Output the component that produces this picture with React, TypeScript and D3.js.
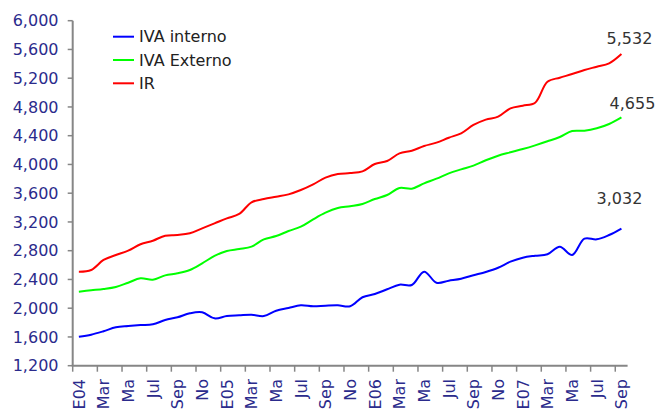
import React from "react";
import * as d3 from "d3";

const months = ["E", "F", "Mar", "A", "Ma", "Jun", "Jul", "Ag", "Sep", "O", "No", "D"];
const startYear = 4;
const yTicks = [1200, 1600, 2000, 2400, 2800, 3200, 3600, 4000, 4400, 4800, 5200, 5600, 6000];

const ivaInterno = [
  1604, 1632, 1679, 1734, 1752, 1766, 1776, 1836, 1873, 1929, 1943, 1859,
  1891, 1901, 1910, 1891, 1965, 2003, 2040, 2026, 2035, 2040, 2026, 2152,
  2198, 2263, 2327, 2323, 2508, 2355, 2383, 2410, 2458, 2504, 2563, 2647,
  2703, 2730, 2750, 2856, 2740, 2967, 2958, 3018, 3108,
];
const ivaExterno = [
  2230, 2249, 2267, 2295, 2355, 2416, 2397, 2457, 2485, 2531, 2624, 2728,
  2796, 2823, 2856, 2958, 3004, 3074, 3134, 3236, 3329, 3394, 3419, 3450,
  3519, 3575, 3672, 3663, 3737, 3802, 3876, 3932, 3983, 4058, 4122, 4169,
  4215, 4266, 4322, 4382, 4465, 4470, 4503, 4563, 4656,
];
const ir = [
  2508, 2531, 2671, 2740, 2800, 2889, 2939, 3009, 3018, 3042, 3111, 3180,
  3250, 3311, 3473, 3519, 3551, 3584, 3644, 3723, 3816, 3867, 3880, 3904,
  4006, 4048, 4155, 4191, 4257, 4303, 4372, 4433, 4549, 4624, 4665, 4781,
  4818, 4859, 5151, 5207, 5258, 5314, 5360, 5407, 5537,
];

const seriesNames = ["IVA interno", "IVA Externo", "IR"];
const seriesColors = ["#0000ff", "#00ff00", "#ff0000"];
const seriesData = [ivaInterno, ivaExterno, ir];
const endLabels = ["3,032", "4,655", "5,532"];

export default function App() {
  const W = 659, H = 409;
  const n = ir.length;
  const x = d3.scaleLinear().domain([0, n]).range([72.7, 627.6]);
  const y = d3.scaleLinear().domain([1200, 6000]).range([365.7, 20.7]);
  const font = "'DejaVu Sans', Verdana, sans-serif";
  const axisColor = "#868686";
  const labelColor = "#2b2b8c";

  const line = d3
    .line<number>()
    .x((_, i) => x(i + 0.5))
    .y((d) => y(d))
    .curve(d3.curveCatmullRom.alpha(0.5));

  const xTickIdx = d3.range(0, n, 2);
  const labelFor = (i: number) => {
    const m = i % 12;
    const yr = startYear + Math.floor(i / 12);
    return m === 0 ? `E0${yr}` : months[m];
  };

  const endOffsets = [-25, -8, -10];
  const endDx = [-2, 11, 8];

  return (
    <svg
      width={W}
      height={H}
      style={{ position: "absolute", left: 0, top: 0, background: "#fff" }}
      fontFamily={font}
    >
      {/* axes */}
      <line x1={x(0)} x2={x(0)} y1={y(6000)} y2={y(1200)} stroke={axisColor} strokeWidth={2} />
      <line x1={x(0) - 1} x2={x(n)} y1={y(1200)} y2={y(1200)} stroke={axisColor} strokeWidth={2} />
      {yTicks.map((t) => (
        <g key={t}>
          <line x1={x(0) - 5} x2={x(0)} y1={y(t)} y2={y(t)} stroke={axisColor} strokeWidth={1.5} />
          <text
            x={58.5}
            y={y(t)}
            dy="0.36em"
            textAnchor="end"
            fontSize={16}
            fill={labelColor}
          >
            {d3.format(",")(t)}
          </text>
        </g>
      ))}
      {xTickIdx.map((i) => (
        <g key={i}>
          <line x1={x(i)} x2={x(i)} y1={y(1200)} y2={y(1200) + 6} stroke={axisColor} strokeWidth={1.5} />
          <text
            transform={`translate(${x(i + 0.5)},${379}) rotate(-90)`}
            dy="0.36em"
            textAnchor="end"
            fontSize={16}
            fill={labelColor}
          >
            {labelFor(i)}
          </text>
        </g>
      ))}
      {/* series */}
      {seriesData.map((s, k) => (
        <path key={k} d={line(s) || ""} fill="none" stroke={seriesColors[k]} strokeWidth={2} />
      ))}
      {/* end labels */}
      {seriesData.map((s, k) => (
        <text
          key={k}
          x={x(n - 0.5) + endDx[k]}
          y={y(s[n - 1]) + endOffsets[k]}
          textAnchor="middle"
          fontSize={16}
          fill="#333"
        >
          {endLabels[k]}
        </text>
      ))}
      {/* legend */}
      {seriesNames.map((name, k) => (
        <g key={name} transform={`translate(113,${36.7 + k * 23.3})`}>
          <line x1={0} x2={21} y1={0} y2={0} stroke={seriesColors[k]} strokeWidth={2} />
          <text x={26} y={0} dy="0.36em" fontSize={16} fill="#222">
            {name}
          </text>
        </g>
      ))}
    </svg>
  );
}
